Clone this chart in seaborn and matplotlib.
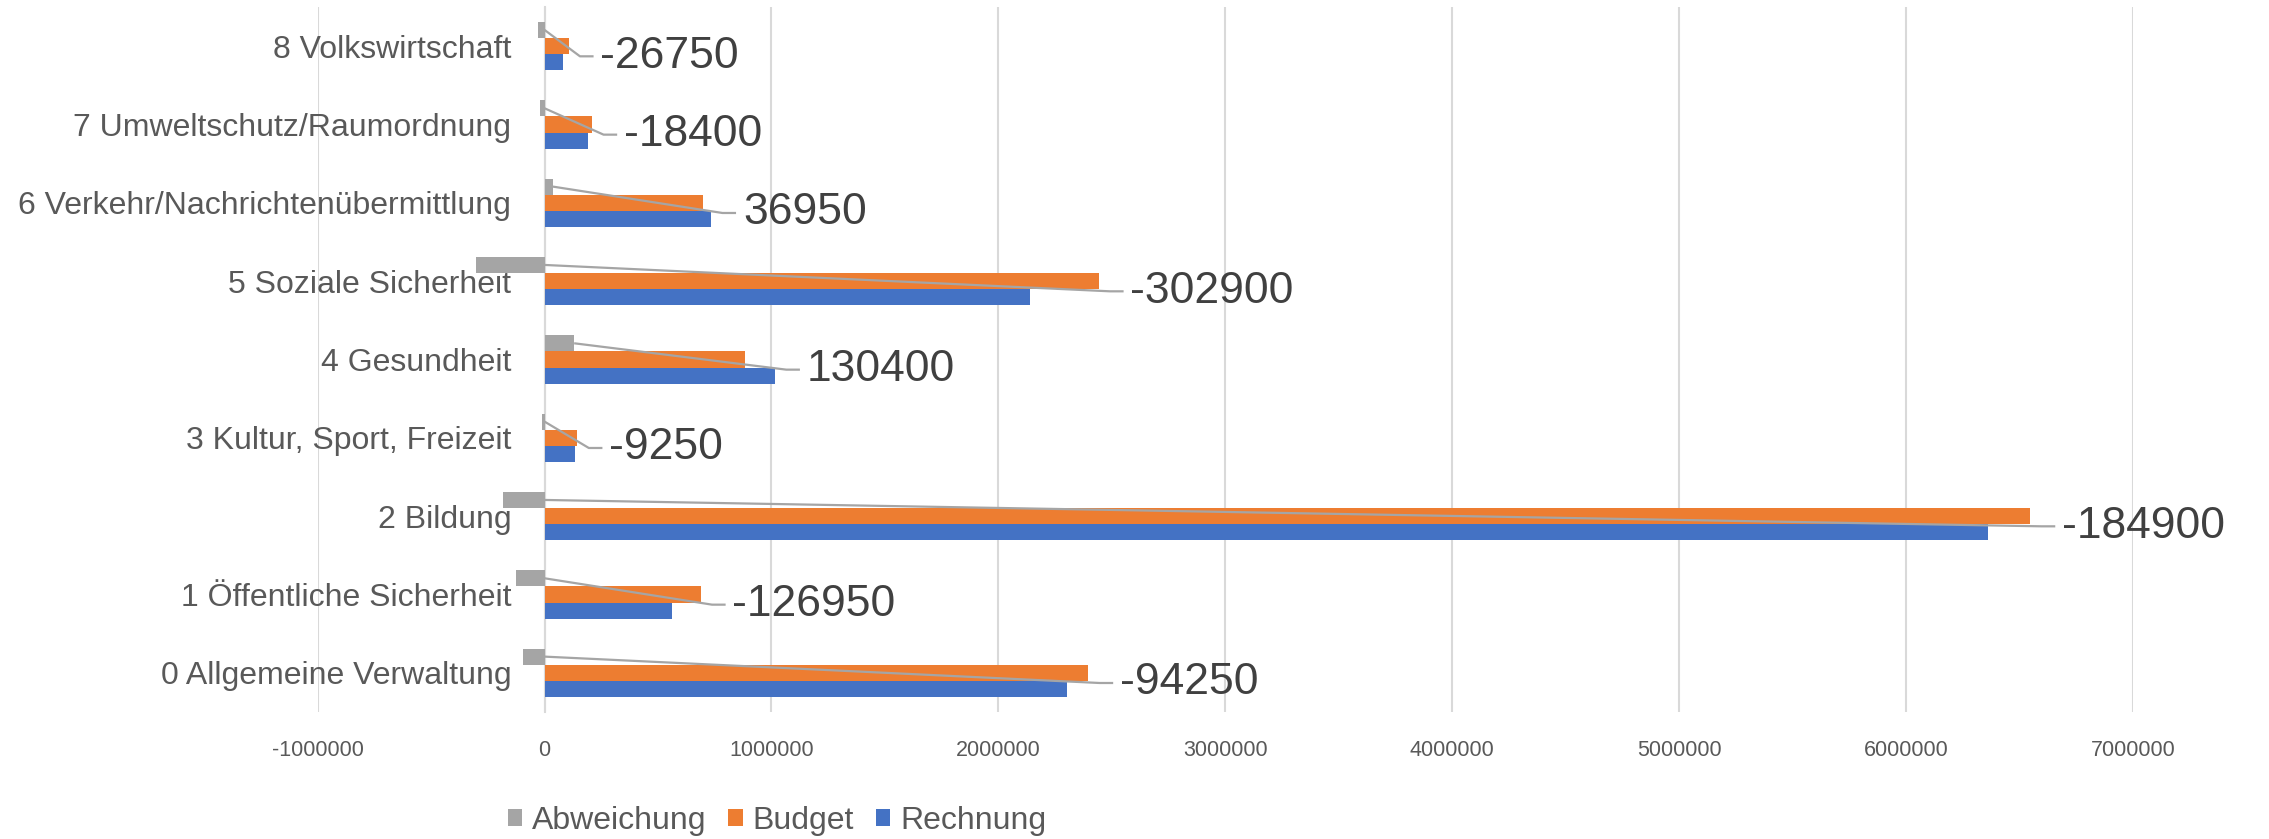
import matplotlib
matplotlib.use("Agg")
import matplotlib.pyplot as plt
import seaborn as sns
import pandas as pd
import numpy as np

# ---- data (bottom category first) ----
categories = [
    "0 Allgemeine Verwaltung",
    "1 Öffentliche Sicherheit",
    "2 Bildung",
    "3 Kultur, Sport, Freizeit",
    "4 Gesundheit",
    "5 Soziale Sicherheit",
    "6 Verkehr/Nachrichtenübermittlung",
    "7 Umweltschutz/Raumordnung",
    "8 Volkswirtschaft",
]
rechnung = [2301750, 561050, 6363100, 135750, 1015400, 2139100, 733950, 191600, 79250]
budget = [2396000, 688000, 6548000, 145000, 885000, 2442000, 697000, 210000, 106000]
abweichung = [-94250, -126950, -184900, -9250, 130400, -302900, 36950, -18400, -26750]
series = ["Abweichung", "Budget", "Rechnung"]
x_ticks = [-1000000, 0, 1000000, 2000000, 3000000, 4000000, 5000000, 6000000, 7000000]

colors = {"Abweichung": "#A5A5A5", "Budget": "#ED7D31", "Rechnung": "#4472C4"}

sns.set_theme(style="white")
plt.rcParams["font.family"] = ["Liberation Sans", "DejaVu Sans"]

rows = []
for c, r, b, a in zip(categories, rechnung, budget, abweichung):
    rows.append({"Kategorie": c, "Serie": "Abweichung", "Wert": a})
    rows.append({"Kategorie": c, "Serie": "Budget", "Wert": b})
    rows.append({"Kategorie": c, "Serie": "Rechnung", "Wert": r})
df = pd.DataFrame(rows)

order = categories[::-1]  # top to bottom

fig = plt.figure(figsize=(22.69, 8.39), dpi=100)
ax = fig.add_axes([0.140, 0.1514, 0.800, 0.8403])

bar_w = 0.62
sns.barplot(data=df, x="Wert", y="Kategorie", hue="Serie", order=order,
            hue_order=series, palette=colors, orient="h", width=bar_w,
            saturation=1, errorbar=None, linewidth=0, ax=ax, zorder=3)

ax.set_xlim(x_ticks[0], x_ticks[-1])
ax.set_ylim(len(order) - 0.5, -0.5)
ax.set_xticks(x_ticks)
ax.set_xticklabels([str(t) for t in x_ticks], color="#595959", fontsize=15.5)
ax.tick_params(axis="x", length=0, pad=20)
ax.tick_params(axis="y", length=0, pad=24, labelsize=23, labelcolor="#595959")
ax.set_xlabel("")
ax.set_ylabel("")

ax.grid(axis="x", color="#D9D9D9", linewidth=1.5, zorder=0)
ax.set_axisbelow(True)
for s in ["top", "right", "bottom"]:
    ax.spines[s].set_visible(False)
ax.spines["left"].set_position(("data", 0))
ax.spines["left"].set_color("#D9D9D9")
ax.spines["left"].set_linewidth(1.5)

# data labels with leader lines for Abweichung
slot = bar_w / 3
for j, cat in enumerate(order):
    i = categories.index(cat)
    a = abweichung[i]
    maxv = max(rechnung[i], budget[i])
    lx = maxv + 140000
    ly = j + 0.13
    gy = j - slot
    x0 = max(a, 0)
    ax.plot([x0, lx - 90000, lx - 30000], [gy, ly, ly], color="#A5A5A5",
            linewidth=1.6, zorder=4, solid_capstyle="butt")
    ax.text(lx, ly, str(a), ha="left", va="center", fontsize=32,
            color="#404040", zorder=5)

handles, labels = ax.get_legend_handles_labels()
ax.legend_.remove()
fig.legend(handles, labels, loc="center left", bbox_to_anchor=(0.211, 0.022),
           ncol=3, frameon=False, fontsize=23, handlelength=0.45,
           handleheight=0.45, handletextpad=0.3, columnspacing=0.7,
           labelcolor="#595959")

fig.savefig("out.png", dpi=100)
